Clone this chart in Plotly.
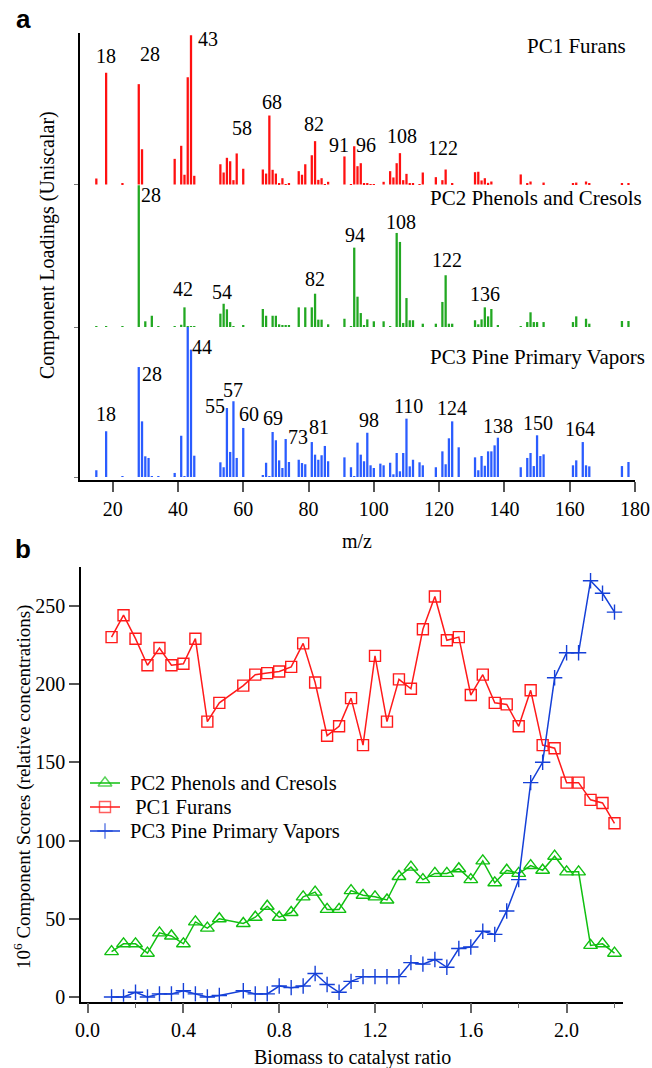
import plotly.graph_objects as go

# ---------------- data: panel a (component loadings, relative units) ----------------
pc1_mz = [15,18,23,28,29,39,41,42,43,44,45,53,54,55,56,57,58,60,66,67,68,69,70,71,72,73,74,
          77,78,79,81,82,83,84,85,86,91,93,94,95,96,97,98,99,100,103,105,106,107,108,109,110,
          111,112,114,115,119,121,122,124,131,132,133,134,135,136,145,147,148,152,161,162,165,166,176,178]
pc1_loading = [4,74.5,0.7,66.9,23.5,17.1,25.8,6.5,71.5,99.5,5.8,13.5,8,17.8,15.5,2.9,20.7,10.5,
               10,7.3,46,9.8,7.3,0.9,4.2,0.3,0.9,8.9,6.5,13.5,19.5,28.9,3.1,4.2,0.3,1.8,
               18.7,0.3,25.5,12.2,14.2,0.9,0.7,0.3,0.3,1.8,8.9,4.7,14.2,20.9,2.9,7.1,0.5,0.5,
               0.2,8,4.9,2.9,10,0.5,8.2,8.5,2.7,4.2,1.1,2,6.7,0.7,2,1.3,0.7,1.3,2,0.9,0.9,0.9]

pc2_mz = [15,18,23,28,30,32,34,39,41,42,43,44,45,53,54,55,56,57,60,66,67,69,70,71,72,73,74,
          77,79,81,82,83,84,86,91,93,94,95,96,97,98,100,103,105,107,108,109,110,111,112,
          115,119,121,122,123,124,131,132,133,134,135,136,138,145,147,148,149,150,152,
          161,162,165,166,176,178]
pc2_loading = [0.5,0.5,0.5,94.5,3.8,7.5,0.5,0.5,1.5,13.1,0.5,0.5,0.5,8.9,15.5,11.8,3.3,0.5,0.9,
               12,7.5,7.5,7.5,1.8,0.9,0.9,0.9,13.1,13.1,13.1,22.2,4.9,4.9,1.8,5.5,0.5,52.9,20.2,
               9.3,0.9,5.1,3.8,3.8,0.5,62.7,56.7,2.7,19.3,4.5,4.5,2.2,2.2,16.7,34.5,2.2,2.2,
               4.5,1.8,5.1,13.1,7.1,12,0.9,0.5,3.3,9.8,3.3,3.3,3.3,3.3,7.1,5.5,2.2,4,4]

pc3_mz = [15,18,23,28,29,30,31,32,34,39,41,42,43,44,45,53,54,55,56,57,58,60,66,67,68,69,70,71,
          72,73,74,77,78,79,81,82,83,84,85,86,91,93,94,95,96,97,98,99,100,102,103,105,106,107,
          108,109,110,111,112,114,115,119,121,122,123,124,126,131,132,133,134,135,136,137,138,
          145,147,148,149,150,151,152,161,162,164,165,166,176,178]
pc3_loading = [4.5,30.5,0.5,73.3,37.1,13.8,12.7,0.5,0.5,2.7,27.5,0.5,100,84.9,14.2,9.8,6.5,46,
               16.7,50.5,12.7,32.7,0.7,9.5,0.5,30,24.5,11.1,6,25.3,10,11.5,9.3,8.5,23.3,14.9,
               11.5,14.5,20.7,10.5,13.1,6.5,0.5,22.9,14.9,10.5,29.5,7.8,6,8.9,7.8,9.5,1.8,16,
               3.8,16,38.9,7.1,11.5,9.8,7.8,6.5,17.1,8.5,25.8,37.1,19.8,13.1,4.5,14,7.5,17.1,
               17.1,21.1,26.2,6.5,12.7,16,7.3,27.8,14,15.1,7.8,11.1,23.3,7.8,7.1,7.3,10]

panel_names = ["PC1 Furans", "PC2 Phenols and Cresols", "PC3 Pine Primary Vapors"]
panel_offsets = [195, 100, 0]   # stacked baselines on the shared loading axis

# peak labels: (text, m/z of the bar it belongs to)
pc1_peaks = [("18",18),("28",28),("43",44),("58",58),("68",68),("82",82),("91",91),("96",96),("108",108),("122",122)]
pc2_peaks = [("28",28),("42",42),("54",54),("82",82),("94",94),("108",107),("122",122),("136",136)]
pc3_peaks = [("18",18),("28",28),("44",44),("55",55),("57",57),("60",60),("69",69),("73",73),("81",81),
             ("98",98),("110",110),("124",124),("138",138),("150",150),("164",164)]
# label placement offsets in pixels (style)
pc1_shift = [(0,17),(11,30),(17,-4),(5,25),(3,14),(-1,17),(-5,11),(5,18),(2,17),(-3,22)]
pc2_shift = [(12,-10),(-1,18),(-2,12),(0,15),(1,13),(4,11),(1,15),(-6,15)]
pc3_shift = [(0,17),(13,-7),(11,3),(-12,2),(0,11),(6,14),(0,14),(12,2),(7,15),(2,13),(2,13),(0,13),(0,12),(1,12),(-3,13)]

mz_ticks = [20,40,60,80,100,120,140,160,180]

# ---------------- data: panel b (component scores) ----------------
ratio = [0.10,0.15,0.20,0.25,0.30,0.35,0.40,0.45,0.50,0.55,
         0.65,0.70,0.75,0.80,0.85,0.90,0.95,1.00,1.05,1.10,1.15,
         1.20,1.25,1.30,1.35,1.40,1.45,1.50,1.55,1.60,1.65,1.70,1.75,1.80,1.85,1.90,1.95,2.00,2.05,2.10,2.15,2.20]
pc1_scores = [230,244,229,212,223,212,213,229,176,188,
              199,206,207,208,211,226,201,167,173,191,161,
              218,176,203,197,235,256,228,230,193,206,188,187,173,196,161,159,137,137,126,124,111]
pc2_scores = [29,34,34,28,41,39,34,48,44,50,
              47,51,58,51,54,64,67,56,56,68,65,
              64,62,77,83,75,79,79,82,75,87,73,81,79,84,81,90,80,80,33,34,28]
pc3_scores = [0,0,3,0,2,2,4,2,0,1,
              4,2,2,7,6,7,15,8,3,10,13,
              13,13,13,22,21,24,19,31,32,42,40,55,75,137,150,204,220,220,266,258,246]
score_ticks = [0,50,100,150,200,250]

# ---------------- figure ----------------
W, H = 652, 1068
SERIF = "Liberation Serif"
bar_colors = ["#ff1010", "#22a822", "#2a5cff"]

fig = go.Figure()

loadings = [(pc1_mz, pc1_loading), (pc2_mz, pc2_loading), (pc3_mz, pc3_loading)]
for (mz, val), base, col in zip(loadings, panel_offsets, bar_colors):
    fig.add_trace(go.Bar(x=mz, y=val, base=base, width=0.7, marker=dict(color=col, line=dict(width=0)),
                         showlegend=False, xaxis="x", yaxis="y", hoverinfo="skip"))

annotations = []
for peaks, shifts, (mz, val), base in zip([pc1_peaks, pc2_peaks, pc3_peaks],
                                          [pc1_shift, pc2_shift, pc3_shift],
                                          loadings, panel_offsets):
    for (txt, m), (dx, dy) in zip(peaks, shifts):
        h = val[mz.index(m)]
        annotations.append(dict(x=m, y=base + h, xref="x", yref="y", text=txt, showarrow=False,
                                xanchor="center", yanchor="middle", xshift=dx, yshift=dy,
                                font=dict(family=SERIF, size=20, color="black")))

# panel names (right aligned inside panel a)
for name, xr, yc in zip(panel_names, [628, 644, 647], [46, 198, 357]):
    annotations.append(dict(x=xr / W, y=1 - yc / H, xref="paper", yref="paper", text=name,
                            showarrow=False, xanchor="right", yanchor="middle",
                            font=dict(family=SERIF, size=21, color="black")))

# bottom panel lines
series = [
    ("PC2 Phenols and Cresols", pc2_scores, "#11c011", "triangle-up-open", 12),
    ("\u00a0PC1 Furans", pc1_scores, "#ff1a1a", "square-open", 11),
    ("PC3 Pine Primary Vapors", pc3_scores, "#1540d8", "cross-thin-open", 11),
]
for name, ys, col, sym, sz in series:
    fig.add_trace(go.Scatter(x=ratio, y=ys, name=name, mode="lines+markers", showlegend=False,
                             line=dict(color=col, width=1.5),
                             marker=dict(symbol=sym, size=sz, color=col, line=dict(width=1.4, color=col)),
                             xaxis="x2", yaxis="y2"))

# hand-drawn legend (to keep the original's tight row spacing)
legend_rows = [783, 807, 831]
for (name, ys, col, sym, sz), row in zip(series, legend_rows):
    fig.add_trace(go.Scatter(x=[0, 15, 30], y=[row, row, row], mode="lines+markers", showlegend=False,
                             line=dict(color=col, width=1.5),
                             marker=dict(symbol=sym, size=[0, sz, 0], color=col, line=dict(width=1.4, color=col)),
                             xaxis="x3", yaxis="y3", hoverinfo="skip"))
    annotations.append(dict(x=128 / W, y=1 - row / H, xref="paper", yref="paper", text=name,
                            showarrow=False, xanchor="left", yanchor="middle",
                            font=dict(family=SERIF, size=20.5, color="black")))

# axis titles and panel letters
annotations += [
    dict(x=357 / W, y=1 - 541 / H, xref="paper", yref="paper", text="m/z", showarrow=False,
         xanchor="center", yanchor="middle", font=dict(family=SERIF, size=20, color="black")),
    dict(x=47 / W, y=1 - 245 / H, xref="paper", yref="paper", text="Component Loadings (Uniscalar)",
         showarrow=False, textangle=-90, xanchor="center", yanchor="middle",
         font=dict(family=SERIF, size=20, color="black")),
    dict(x=352 / W, y=1 - 1057 / H, xref="paper", yref="paper", text="Biomass to catalyst ratio",
         showarrow=False, xanchor="center", yanchor="middle", font=dict(family=SERIF, size=20, color="black")),
    dict(x=22 / W, y=1 - 787 / H, xref="paper", yref="paper",
         text="10<sup>6</sup> Component Scores (relative concentrations)", showarrow=False, textangle=-90,
         xanchor="center", yanchor="middle", font=dict(family=SERIF, size=19, color="black")),
    dict(x=23 / W, y=1 - 19 / H, xref="paper", yref="paper", text="<b>a</b>", showarrow=False,
         xanchor="center", yanchor="middle", font=dict(family="Liberation Sans", size=26, color="black")),
    dict(x=23 / W, y=1 - 549 / H, xref="paper", yref="paper", text="<b>b</b>", showarrow=False,
         xanchor="center", yanchor="middle", font=dict(family="Liberation Sans", size=26, color="black")),
]

tickfont = dict(family=SERIF, size=20, color="black")
fig.update_layout(
    width=W, height=H, margin=dict(l=0, r=0, t=0, b=0, autoexpand=False),
    paper_bgcolor="white", plot_bgcolor="white", barmode="overlay", showlegend=False,
    font=dict(family=SERIF, size=20, color="black"),
    xaxis=dict(domain=[80 / W, 635 / W], range=[10, 180], anchor="y", automargin=False,
               tickmode="array", tickvals=mz_ticks, ticks="outside", ticklen=10, tickwidth=1.5,
               tickcolor="#555", showline=True, linecolor="black", linewidth=1.5, showgrid=False,
               zeroline=False, tickfont=tickfont),
    yaxis=dict(domain=[1 - 480 / H, 1 - 33 / H], range=[-2, 296], anchor="x", automargin=False,
               tickmode="array", tickvals=[0, 100, 195], showticklabels=False, ticks="outside",
               ticklen=4, tickcolor="#777", showline=True, linecolor="black", linewidth=1.5,
               showgrid=False, zeroline=False),
    xaxis2=dict(domain=[81 / W, 623 / W], range=[-0.0276, 2.2355], anchor="y2", automargin=False,
                tick0=0, dtick=0.4, tickformat=".1f", ticks="outside", ticklen=10, tickwidth=1.5,
                tickcolor="#666",
                minor=dict(dtick=0.2, tick0=0, ticks="outside", ticklen=5, tickcolor="#666", tickwidth=1.2),
                showline=True, linecolor="black", linewidth=1.5, showgrid=False, zeroline=False,
                tickfont=tickfont),
    yaxis2=dict(domain=[1 - 1001.7 / H, 1 - 566.7 / H], range=[-3, 275], anchor="x2", automargin=False,
                tickmode="array", tickvals=score_ticks, ticks="outside", ticklen=10, tickwidth=1.5,
                tickcolor="#555", showline=True, linecolor="black", linewidth=1.5, showgrid=False,
                zeroline=False, tickfont=tickfont),
    xaxis3=dict(domain=[90 / W, 120 / W], range=[0, 30], anchor="y3", visible=False, automargin=False,
                fixedrange=True),
    yaxis3=dict(domain=[1 - 843 / H, 1 - 771 / H], range=[843, 771], anchor="x3", visible=False,
                automargin=False, fixedrange=True),
    annotations=annotations,
)

fig.write_html("out.html")
